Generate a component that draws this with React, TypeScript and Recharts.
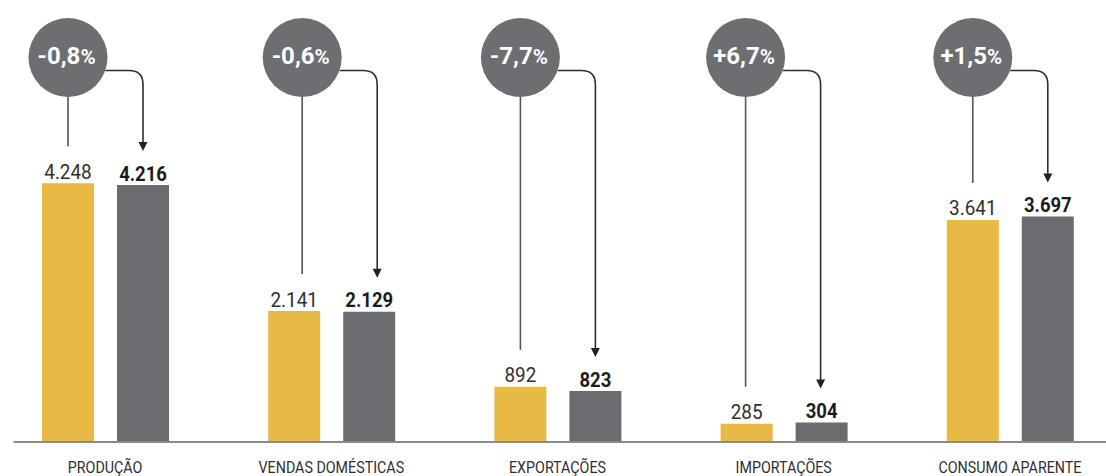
import React from 'react';
import { BarChart, Bar, XAxis, YAxis, LabelList, ReferenceLine } from 'recharts';

// ---- data ----
const categories = ['PRODUÇÃO', 'VENDAS DOMÉSTICAS', 'EXPORTAÇÕES', 'IMPORTAÇÕES', 'CONSUMO APARENTE'];
const previousValues = [4248, 2141, 892, 285, 3641];
const currentValues = [4216, 2129, 823, 304, 3697];
const changeLabels = ['-0,8', '-0,6', '-7,7', '+6,7', '+1,5'];

const data = categories.map((category, i) => ({
  category,
  prev: previousValues[i],
  cur: currentValues[i],
  change: changeLabels[i],
}));

// ---- layout / style ----
const YELLOW = '#E8BA45';
const GRAY = '#6B6C70';
const CIRCLE = '#6D6E72';
const BAR_SIZE = 52;
const BAR_GAP = 23;
const CIRCLE_CY = 57.5;
const CIRCLE_R = 39.5;
const CONNECT_DY = 13;
const CORNER = 14;
const LINE_GAP = 37;
const ARROW_GAP = 34;
const calloutNudge = [0, 8, 0, -1, 0];
const FONT = 'Roboto, "Liberation Sans", Arial, sans-serif';

const fmt = (v: number) => String(v).replace(/\B(?=(\d{3})+(?!\d))/g, '.');

const getBox = (props: any) => {
  const vb = props.viewBox && props.viewBox.width !== undefined ? props.viewBox : props;
  return { x: Number(vb.x), y: Number(vb.y), width: Number(vb.width), height: Number(vb.height) };
};

const CondText = ({ x, y, scale, children, ...rest }: any) => (
  <g transform={`translate(${x},${y}) scale(${scale},1)`}>
    <text x={0} y={0} textAnchor="middle" fontFamily={FONT} {...rest}>
      {children}
    </text>
  </g>
);

const PrevLabel = (props: any) => {
  const { x, y, width } = getBox(props);
  return (
    <CondText x={x + width / 2} y={y - 4.5} scale={0.9} fontSize={21} fill="#2f2f2f">
      {fmt(previousValues[props.index])}
    </CondText>
  );
};

const CurLabel = (props: any) => {
  const { x, y, width } = getBox(props);
  return (
    <CondText x={x + width / 2} y={y - 4.5} scale={0.88} fontSize={21} fontWeight={700} fill="#1c1c1c">
      {fmt(currentValues[props.index])}
    </CondText>
  );
};

const Callout = (props: any) => {
  const i = props.index;
  const { x, y, width, height } = getBox(props);
  const baseline = y + height;
  const k = height / currentValues[i];
  const grayTop = y;
  const yellowTop = baseline - previousValues[i] * k;
  const gx = x + width / 2 + calloutNudge[i];
  const yx = x - BAR_GAP - width / 2 + calloutNudge[i];
  const cx = yx;
  const cy = CIRCLE_CY;
  const r = CIRCLE_R;
  const hy = cy + CONNECT_DY;
  const startX = cx + Math.sqrt(r * r - CONNECT_DY * CONNECT_DY);
  const tipY = grayTop - ARROW_GAP;
  const headH = 9;
  const headW = 9;
  const path = `M${startX},${hy} L${gx - CORNER},${hy} Q${gx},${hy} ${gx},${hy + CORNER} L${gx},${tipY - headH + 1}`;
  return (
    <g>
      <line x1={cx} y1={cy + r} x2={cx} y2={yellowTop - LINE_GAP} stroke="#555" strokeWidth={1.6} />
      <path d={path} fill="none" stroke="#2e2e2e" strokeWidth={1.6} />
      <path d={`M${gx - headW / 2},${tipY - headH} L${gx + headW / 2},${tipY - headH} L${gx},${tipY} Z`} fill="#222" />
      <circle cx={cx} cy={cy} r={r} fill={CIRCLE} />
      <text x={cx - 1.5} y={cy + 6.5} textAnchor="middle" fontFamily={FONT} fontWeight={700} fontSize={24} fill="#fff">
        {changeLabels[i]}
        <tspan fontSize={20.5}>%</tspan>
      </text>
    </g>
  );
};

const CategoryTick = (props: any) => {
  const { x, y, payload } = props;
  return (
    <CondText x={x} y={y + 23.5} scale={0.84} fontSize={17} fill="#2f2f2f">
      {payload.value}
    </CondText>
  );
};

const BaseLine = (props: any) => {
  const { x1, y1, x2 } = props;
  return <line x1={Number(x1) + 21.5} y1={Number(y1) + 1} x2={Number(x2)} y2={Number(y1) + 1} stroke="#8a8a8a" strokeWidth={2} />;
};

export default function App() {
  return (
    <div style={{ position: 'absolute', left: -8.5, top: 0, width: 1131, height: 476, background: '#fff' }}>
      <BarChart
        width={1131}
        height={476}
        data={data}
        margin={{ top: 0, right: 0, left: 0, bottom: 5 }}
        barSize={BAR_SIZE}
        barGap={BAR_GAP}
      >
        <XAxis dataKey="category" axisLine={false} tickLine={false} tick={<CategoryTick />} interval={0} height={30} />
        <YAxis hide domain={[0, 7265]} allowDataOverflow />
        <Bar dataKey="prev" fill={YELLOW} isAnimationActive={false}>
          <LabelList dataKey="prev" content={<PrevLabel />} />
        </Bar>
        <Bar dataKey="cur" fill={GRAY} isAnimationActive={false}>
          <LabelList dataKey="cur" content={<CurLabel />} />
          <LabelList dataKey="cur" content={<Callout />} />
        </Bar>
        <ReferenceLine y={0} shape={<BaseLine />} ifOverflow="visible" />
      </BarChart>
    </div>
  );
}
